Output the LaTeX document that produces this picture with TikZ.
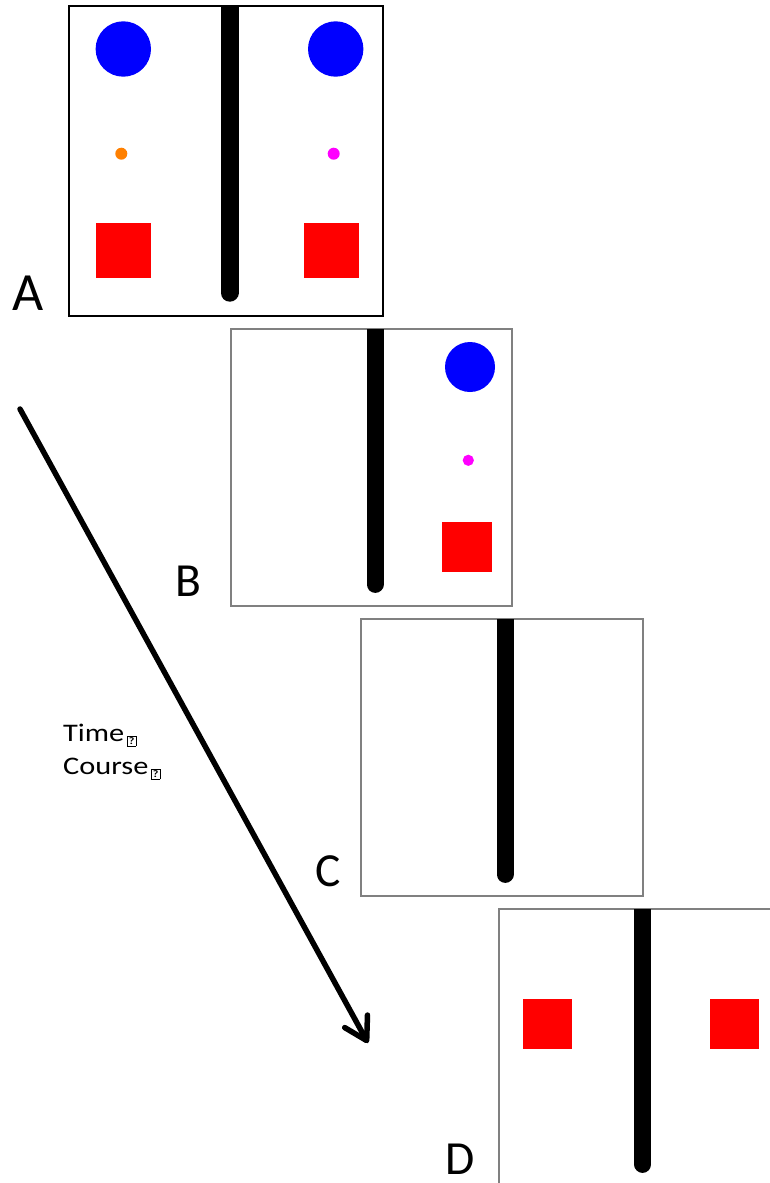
\documentclass[tikz,border=0pt]{standalone}
\usepackage{fontspec}
\setmainfont{Carlito}
\newfontfamily\tcfont[FakeStretch=1.2]{Carlito}
\usetikzlibrary{arrows.meta}
\definecolor{frgray}{HTML}{808080}
\definecolor{dotorange}{HTML}{FF8000}
\definecolor{dotmagenta}{HTML}{FF00FF}
\definecolor{pureblue}{HTML}{0000FF}
\definecolor{purered}{HTML}{FF0000}
\newcommand\qmbox{\hspace{2.5pt}\raisebox{-4.7pt}{\setlength\fboxsep{0pt}\setlength\fboxrule{0.8pt}\fbox{\makebox[8pt]{\rule{0pt}{9.4pt}\raisebox{1.3pt}{\fontsize{10}{10}\selectfont\bfseries ?}}}}}
\tikzset{
  frameA/.style={draw=black, line width=2pt, fill=white},
  frameB/.style={draw=frgray, line width=1.6pt, fill=white},
  barline/.style={line width=17pt, line cap=round, black},
  bigdisc/.style={fill=pureblue},
  redsq/.style={fill=purered},
  biglabel/.style={inner sep=0pt, anchor=base, text depth=0pt, font=\fontsize{47.5}{50}\selectfont},
  timelabel/.style={inner sep=0pt, anchor=base west, font=\tcfont\fontsize{25.3}{30}\selectfont},
  timearrow/.style={line width=5.5pt, line cap=round, line join=round, -{Straight Barb[length=22pt, width=26pt, line cap=round, line join=round]}}
}
\begin{document}
\begin{tikzpicture}[x=1pt, y=-1pt]
\useasboundingbox (0,0) rectangle (770,1183);
\clip (0,0) rectangle (770,1183);
% Panel A
\draw[frameA] (69,6) rectangle (383,316);
\begin{scope}
  \clip (69,6) rectangle (383,316);
  \draw[barline, line width=18pt] (229.5,-20) -- (229.5,292.7);
\end{scope}
\fill[bigdisc] (123.3,49) circle (27.7);
\fill[bigdisc] (335.7,49) circle (27.7);
\fill[dotorange] (121.3,153.7) circle (6);
\fill[dotmagenta] (333.7,153.7) circle (6);
\fill[redsq] (95.7,222.7) rectangle (151,278);
\fill[redsq] (304,222.7) rectangle (359.3,278);
\node[biglabel, font=\fontsize{53.8}{56}\selectfont] (labA) at (28,310.7) {A};
% Panel B
\draw[frameB] (231,329) rectangle (512,606);
\begin{scope}
  \clip (231,329) rectangle (512,606);
  \draw[barline] (375,300) -- (375,584.4);
\end{scope}
\fill[bigdisc] (470,367) circle (25);
\fill[dotmagenta] (468.3,460.3) circle (5.6);
\fill[redsq] (441.7,522.3) rectangle (491.7,571.7);
\node[biglabel] (labB) at (188.5,596.7) {B};
% Panel C
\draw[frameB] (360.7,619) rectangle (642.7,896);
\begin{scope}
  \clip (360.7,619) rectangle (642.7,896);
  \draw[barline] (505,590) -- (505,874.4);
\end{scope}
\node[biglabel] (labC) at (328,886) {C};
% Panel D
\draw[frameB] (499,909) rectangle (780,1186);
\begin{scope}
  \clip (499,909) rectangle (780,1186);
  \draw[barline] (642.7,880) -- (642.7,1164.4);
\end{scope}
\fill[redsq] (522.7,999) rectangle (572.3,1048.7);
\fill[redsq] (709.7,999) rectangle (759.3,1048.7);
\node[biglabel] (labD) at (460.5,1174.3) {D};
% Time course arrow
\coordinate (arrstart) at (20,409);
\coordinate (arrtip) at (368,1043);
\draw[timearrow] (arrstart) -- (arrtip);
\node[timelabel] (tl1) at (63,741) {Time\qmbox};
\node[timelabel] (tl2) at (63,774.3) {Course\qmbox};
\end{tikzpicture}
\end{document}
